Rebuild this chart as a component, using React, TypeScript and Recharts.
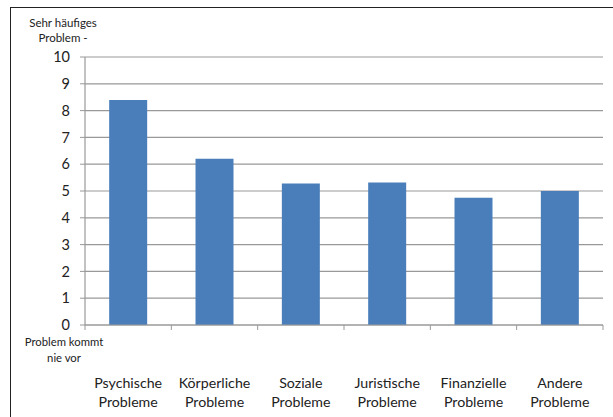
import React from 'react';
import { BarChart, Bar, XAxis, YAxis, CartesianGrid } from 'recharts';

const categories = ['Psychische Probleme', 'Körperliche Probleme', 'Soziale Probleme', 'Juristische Probleme', 'Finanzielle Probleme', 'Andere Probleme'];
const values = [8.4, 6.2, 5.28, 5.32, 4.75, 5.0];
const yTicks = [0, 1, 2, 3, 4, 5, 6, 7, 8, 9, 10];

const data = categories.map((name, i) => ({ name, value: values[i] }));

const FONT = 'Lato, "Open Sans", sans-serif';
const PLOT_LEFT = 85;
const PLOT_RIGHT = 603;
const BAND = (PLOT_RIGHT - PLOT_LEFT) / categories.length;

function CategoryTick(props: any) {
  const { x, y, payload, index } = props;
  const words = String(payload.value).split(' ');
  const left = x - BAND / 2;
  return (
    <g>
      <line x1={left} x2={left} y1={y - 8} y2={y - 3} stroke="#999" />
      {index === categories.length - 1 && (
        <line x1={x + BAND / 2} x2={x + BAND / 2} y1={y - 8} y2={y - 3} stroke="#999" />
      )}
      <text x={x} y={y + 55} textAnchor="middle" fontSize={14.2} fill="#222" fontFamily={FONT}>
        <tspan x={x} dy={0}>{words[0]}</tspan>
        <tspan x={x} dy={18.5}>{words[1]}</tspan>
      </text>
    </g>
  );
}

export default function App() {
  return (
    <div style={{ position: 'absolute', left: 0, top: 0, width: 613, height: 417, background: '#fff', overflow: 'hidden' }}>
      <div style={{ position: 'absolute', left: 10, top: 7, width: 700, height: 500, borderLeft: '1.5px solid #222', borderTop: '1.5px solid #222' }} />
      <div style={{ position: 'absolute', left: 18, top: 15, width: 90, textAlign: 'center', fontFamily: FONT, fontSize: 11.5, lineHeight: '15px', color: '#222' }}>
        Sehr häufiges<br />Problem -
      </div>
      <div style={{ position: 'absolute', left: 18, top: 334, width: 92, textAlign: 'center', fontFamily: FONT, fontSize: 11.3, lineHeight: '15.5px', color: '#222' }}>
        Problem kommt<br />nie vor
      </div>
      <BarChart
        width={613}
        height={417}
        data={data}
        margin={{ top: 57, right: 613 - PLOT_RIGHT, bottom: 52, left: 35 }}
        barCategoryGap="28%"
        style={{ position: 'absolute', left: 0, top: 0 }}
      >
        <CartesianGrid vertical={false} stroke="#999" strokeWidth={1.2} />
        <YAxis
          domain={[0, 10]}
          ticks={yTicks}
          interval={0}
          width={50}
          axisLine={{ stroke: '#999', strokeWidth: 1.2 }}
          tickLine={{ stroke: '#999' }}
          tickSize={5}
          tick={{ fontSize: 14.5, fill: '#222', fontFamily: FONT }}
          tickMargin={10}
        />
        <XAxis
          dataKey="name"
          height={40}
          interval={0}
          axisLine={{ stroke: '#999', strokeWidth: 1.2 }}
          tickLine={false}
          tick={<CategoryTick />}
        />
        <Bar dataKey="value" fill="#4A7EBB" isAnimationActive={false} />
      </BarChart>
    </div>
  );
}
